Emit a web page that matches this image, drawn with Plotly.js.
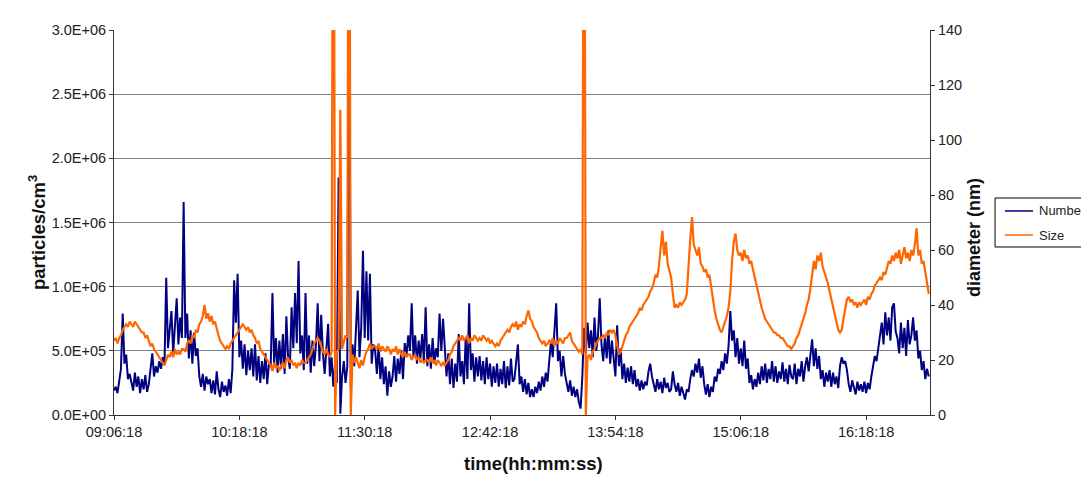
<!DOCTYPE html>
<html>
<head>
<meta charset="utf-8">
<script src="https://cdn.plot.ly/plotly-3.0.1.min.js"></script>
<style>
  html, body { margin: 0; padding: 0; background: #ffffff; }
  #chart { width: 1081px; height: 483px; }
</style>
</head>
<body>
<div id="chart"></div>
<script>
// Particle monitor log, one reading per minute starting at 09:06:18.
const logDate = '2000-01-01';
const startTime = '09:06:18';
const sampleStepMinutes = 1;

// Number concentration, in units of 10^4 particles/cm3
const numberE4 = [
  19,22,17,27,36,79,40,47,28,32,
  26,19,33,22,30,17,28,20,31,18,
  24,35,48,30,38,33,42,36,45,40,
  107,52,70,81,48,66,91,55,76,60,
  166,60,79,44,66,40,64,46,52,30,
  22,32,19,30,24,28,17,27,16,34,
  20,14,26,18,23,15,28,17,36,105,
  72,110,45,58,36,55,31,50,35,52,
  30,55,27,46,25,42,28,48,24,40,
  38,95,40,60,33,58,36,63,32,77,
  45,36,84,52,95,56,120,48,62,35,
  95,40,62,33,58,38,55,87,42,78,
  48,32,52,71,30,45,22,40,25,185,
  1,30,42,25,38,400,20,55,38,66,
  97,45,68,128,60,112,58,110,40,55,
  50,32,55,28,45,24,38,15,34,22,
  30,46,26,44,32,50,28,56,46,62,
  50,87,45,62,40,58,44,63,42,84,
  38,55,36,60,40,52,45,79,50,75,
  55,30,48,24,44,21,40,26,63,30,
  42,24,60,28,87,35,48,26,45,30,
  46,27,42,24,45,28,40,22,38,25,
  40,22,36,24,42,21,38,23,44,26,
  28,42,55,24,30,18,28,16,25,14,
  20,14,22,17,26,19,30,22,33,26,
  40,58,45,63,87,42,50,30,46,32,
  25,18,27,15,22,14,20,10,5,30,
  68,48,72,52,66,45,76,50,62,91,
  55,42,62,44,66,40,58,45,30,70,
  38,52,28,40,25,37,26,38,24,35,
  22,28,19,27,20,26,23,34,40,30,
  24,18,28,20,26,17,29,21,25,18,
  20,34,24,18,25,15,22,16,12,20,
  18,28,35,30,40,33,44,29,38,24,
  16,24,14,22,18,30,26,36,32,42,
  35,48,40,54,81,58,66,45,60,40,
  52,38,58,36,44,25,31,20,28,22,
  33,24,38,27,40,25,36,28,42,26,
  38,25,34,28,41,26,36,24,39,30,
  28,40,24,36,30,42,26,38,45,34,
  48,59,38,52,36,46,28,35,22,33,
  26,35,22,33,24,30,21,38,45,40,
  42,35,24,18,27,20,16,26,19,24,
  18,26,17,25,20,30,38,46,42,52,
  58,72,55,80,62,76,58,84,87,65,
  60,48,72,52,68,46,74,55,62,76,
  58,66,44,50,35,42,28,36,30
];

// Mean particle diameter, nm
const sizeNm = [
  27,28,26,28,29,31,32,33,32,34,
  33,32,34,33,32,31,30,30,28,29,
  27,25,26,24,23,22,21,20,19,18,
  20,22,21,23,21,24,22,23,22,24,
  24,23,26,27,26,29,28,31,30,33,
  34,36,40,35,37,34,36,33,34,31,
  29,27,26,25,24,25,24,26,27,28,
  29,30,31,32,33,32,31,32,30,31,
  29,28,26,27,24,23,22,21,20,19,
  18,16,19,17,18,16,18,19,17,20,
  21,19,20,18,19,17,19,18,20,19,
  19,20,21,22,24,26,27,28,27,25,
  23,22,24,22,21,23,300,0,23,24,
  111,24,27,29,28,300,0,22,19,21,
  19,17,20,18,21,23,24,26,24,25,
  25,24,26,23,25,24,23,25,24,22,
  24,23,25,22,24,22,21,23,21,22,
  22,20,21,22,20,21,19,20,19,20,
  20,19,21,19,20,18,20,19,18,19,
  18,19,20,22,23,25,26,27,28,27,
  29,27,28,29,26,28,27,29,28,27,
  28,27,29,28,27,28,26,27,26,25,
  26,25,27,28,29,30,31,30,32,33,
  32,34,31,33,32,34,33,36,38,35,
  34,32,31,30,28,27,26,27,25,26,
  27,26,28,25,27,26,28,27,26,28,
  28,29,30,27,26,25,24,23,24,22,
  300,0,21,22,20,23,24,26,27,28,
  28,29,28,30,29,31,30,31,29,25,
  22,23,25,27,29,30,32,33,34,35,
  36,37,39,38,40,41,42,43,45,46,
  48,51,50,54,61,67,58,63,55,52,
  50,44,39,40,39,41,40,41,42,44,
  55,64,72,62,60,58,61,55,54,52,
  53,50,51,46,42,38,35,33,31,30,
  32,34,36,39,45,56,63,66,60,58,
  59,56,60,57,58,55,56,53,50,47,
  44,41,39,37,35,34,33,32,31,30,
  30,29,29,28,28,27,26,25,25,24,
  25,26,28,29,31,33,35,37,40,42,
  46,52,56,53,58,56,59,54,52,50,
  48,45,42,39,36,33,31,30,31,35,
  39,42,43,41,42,40,41,39,41,40,
  41,42,40,43,42,44,45,47,48,49,
  50,49,52,51,54,56,55,58,56,59,
  57,60,55,58,61,57,59,56,60,58,
  62,68,58,60,55,56,52,48,44
];

const seriesNames = ['Number', 'Size'];
const seriesColors = ['#000080', '#ff6600'];

const timeTickLabels = ['09:06:18', '10:18:18', '11:30:18', '12:42:18', '13:54:18', '15:06:18', '16:18:18'];
const axisEndTime = '16:55:00';

const numberTickVals = [0, 5e5, 1e6, 1.5e6, 2e6, 2.5e6, 3e6];
const numberTickText = ['0.0E+00', '5.0E+05', '1.0E+06', '1.5E+06', '2.0E+06', '2.5E+06', '3.0E+06'];
const sizeTickVals = [0, 20, 40, 60, 80, 100, 120, 140];

const xTitle = 'time(hh:mm:ss)';
const yTitle = 'particles/cm<sup>3</sup>';
const y2Title = 'diameter (nm)';

// --- build time stamps for the regular one-minute log ---
function pad(n) { return String(n).padStart(2, '0'); }
function stamp(baseTime, addMinutes) {
  const [h, m, s] = baseTime.split(':').map(Number);
  const total = h * 3600 + m * 60 + s + Math.round(addMinutes * 60);
  return logDate + ' ' + pad(Math.floor(total / 3600)) + ':' + pad(Math.floor(total / 60) % 60) + ':' + pad(total % 60);
}
const times = numberE4.map((_, i) => stamp(startTime, i * sampleStepMinutes));

const fontFamily = '"Liberation Sans", Arial, Helvetica, sans-serif';
const tickFont = { family: fontFamily, size: 14.5, color: '#222222' };
const titleFont = { family: fontFamily, size: 18.5, color: '#111111', weight: 'bold' };

const traces = [
  {
    x: times,
    y: numberE4.map(v => v * 1e4),
    name: seriesNames[0],
    type: 'scatter',
    mode: 'lines',
    line: { color: seriesColors[0], width: 2 },
    yaxis: 'y',
    showlegend: false
  },
  {
    x: times,
    y: sizeNm,
    name: seriesNames[1],
    type: 'scatter',
    mode: 'lines',
    line: { color: seriesColors[1], width: 2.2 },
    yaxis: 'y2',
    showlegend: false
  }
];

// legend box drawn to the right of the diameter axis
const legX0 = 1.0797, legX1 = 1.20, legY0 = 0.4364, legY1 = 0.5636;
const sampleX0 = 1.0919, sampleX1 = 1.1262, textX = 1.1311;
const rowY = [0.5299, 0.4675];

const shapes = [
  { type: 'rect', xref: 'paper', yref: 'paper', x0: legX0, x1: legX1, y0: legY0, y1: legY1,
    line: { color: '#000000', width: 1 }, fillcolor: 'rgba(0,0,0,0)' }
];
const annotations = [];
seriesNames.forEach((name, k) => {
  shapes.push({ type: 'line', xref: 'paper', yref: 'paper', x0: sampleX0, x1: sampleX1, y0: rowY[k], y1: rowY[k],
    line: { color: seriesColors[k], width: 1.5 } });
  annotations.push({ xref: 'paper', yref: 'paper', x: textX, y: rowY[k], xanchor: 'left', yanchor: 'middle',
    text: name, showarrow: false, font: { family: fontFamily, size: 13, color: '#222222' } });
});

// axis titles, placed as free text so they sit where the chart frame centres them
annotations.push(
  { xref: 'paper', yref: 'paper', x: 0.5135, y: -0.1247, xanchor: 'center', yanchor: 'middle',
    text: xTitle, showarrow: false, font: titleFont },
  { xref: 'paper', yref: 'paper', x: -0.0944, y: 0.4753, xanchor: 'center', yanchor: 'middle',
    text: yTitle, textangle: -90, showarrow: false, font: titleFont },
  { xref: 'paper', yref: 'paper', x: 1.0539, y: 0.4623, xanchor: 'center', yanchor: 'middle',
    text: y2Title, textangle: -90, showarrow: false, font: { family: fontFamily, size: 18, color: '#111111', weight: 'bold' } }
);

const layout = {
  width: 1081,
  height: 483,
  margin: { l: 114, r: 151, t: 30, b: 68 },
  paper_bgcolor: '#ffffff',
  plot_bgcolor: '#ffffff',
  showlegend: false,
  font: { family: fontFamily, size: 14, color: '#222222' },
  xaxis: {
    type: 'date',
    range: [logDate + ' ' + startTime, logDate + ' ' + axisEndTime],
    tickmode: 'array',
    tickvals: timeTickLabels.map(t => logDate + ' ' + t),
    ticktext: timeTickLabels,
    ticks: 'outside',
    ticklen: 4,
    tickcolor: '#333333',
    showgrid: false,
    zeroline: false,
    showline: true,
    linecolor: '#333333',
    linewidth: 1,
    tickfont: tickFont
  },
  yaxis: {
    range: [0, 3e6],
    tickmode: 'array',
    tickvals: numberTickVals,
    ticktext: numberTickText,
    ticks: 'outside',
    ticklen: 4,
    tickcolor: '#333333',
    showgrid: true,
    gridcolor: '#7f7f7f',
    gridwidth: 1,
    zeroline: false,
    showline: true,
    linecolor: '#333333',
    linewidth: 1,
    tickfont: tickFont
  },
  yaxis2: {
    overlaying: 'y',
    side: 'right',
    range: [0, 140],
    tickmode: 'array',
    tickvals: sizeTickVals,
    ticks: 'outside',
    ticklen: 4,
    tickcolor: '#333333',
    showgrid: false,
    zeroline: false,
    showline: true,
    linecolor: '#333333',
    linewidth: 1,
    tickfont: tickFont
  },
  shapes: shapes,
  annotations: annotations
};

Plotly.newPlot('chart', traces, layout, { staticPlot: true, displayModeBar: false });
</script>
</body>
</html>
